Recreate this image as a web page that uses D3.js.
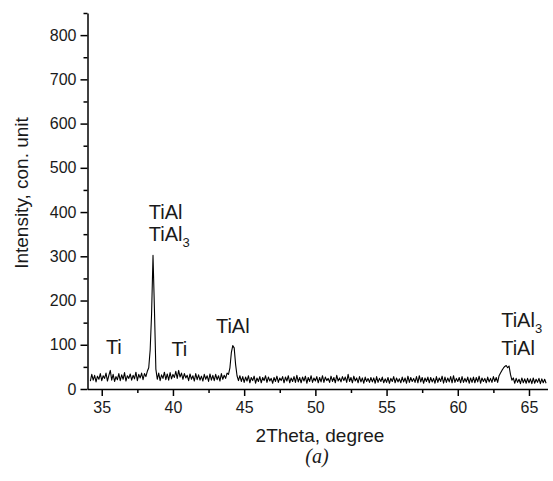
<!DOCTYPE html>
<html>
<head>
<meta charset="utf-8">
<script src="https://cdn.jsdelivr.net/npm/d3@7"></script>
<style>
    body { margin: 0; background: #fff; }
    text { font-family: Arial, "Liberation Sans", sans-serif; fill: #1a1a1a; }
</style>
</head>
<body>
<svg id="chart" width="553" height="481"></svg>
<script>
// XRD pattern, 2theta from 34.2 in steps of 0.1 degree
var thetaStart = 34.2,
    thetaStep = 0.1;

var intensity = [
    18, 33, 20, 31, 16, 29, 22, 35,
    19, 30, 24, 36, 18, 31, 42, 20, 33, 17,
    28, 21, 35, 19, 32, 22, 37, 18, 30, 24,
    34, 20, 31, 23, 38, 19, 33, 25, 36, 21,
    35, 28, 40, 48, 88, 170, 302, 180, 45, 22,
    36, 19, 32, 24, 38, 21, 34, 20, 37, 23,
    33, 26, 40, 24, 42, 27, 36, 22, 35, 25,
    31, 19, 34, 22, 30, 18, 35, 21, 32, 20,
    29, 18, 33, 22, 30, 17, 34, 20, 31, 19,
    33, 21, 30, 18, 35, 22, 31, 24, 36, 33,
    48, 82, 98, 93, 55, 30, 19, 30, 17, 28,
    15, 27, 18, 30, 14, 26, 19, 29, 13, 25,
    17, 28, 14, 26, 19, 30, 15, 27, 18, 24,
    13, 26, 17, 29, 15, 25, 19, 28, 14, 27,
    18, 30, 14, 25, 17, 28, 15, 31, 16, 26,
    14, 27, 18, 29, 13, 26, 17, 30, 15, 25,
    18, 28, 14, 26, 16, 30, 15, 27, 19, 24,
    15, 29, 17, 26, 14, 31, 18, 25, 16, 28,
    19, 27, 15, 33, 17, 26, 14, 29, 18, 25,
    14, 28, 16, 25, 13, 27, 17, 24, 15, 26,
    16, 25, 13, 28, 15, 24, 17, 27, 14, 23,
    15, 26, 13, 24, 17, 28, 14, 25, 16, 23,
    14, 27, 16, 25, 13, 29, 15, 26, 17, 24,
    15, 28, 14, 30, 16, 26, 13, 25, 17, 27,
    14, 26, 16, 24, 13, 28, 15, 25, 17, 29,
    13, 27, 15, 25, 16, 28, 14, 30, 15, 24,
    17, 26, 14, 28, 15, 24, 16, 27, 13, 25,
    15, 27, 14, 26, 16, 29, 13, 25, 17, 24,
    14, 27, 16, 24, 15, 28, 17, 26, 15, 30,
    36, 42, 47, 51, 53, 48, 52, 33, 20, 25,
    13, 24, 15, 22, 12, 25, 14, 23, 13, 24,
    14, 23, 12, 25, 13, 22, 15, 24, 12, 23,
    14, 22, 13
];

var xTicks = [35, 40, 45, 50, 55, 60, 65];
var xMinorTicks = [37.5, 42.5, 47.5, 52.5, 57.5, 62.5];
var yTicks = [0, 100, 200, 300, 400, 500, 600, 700, 800];
var yMinorTicks = [50, 150, 250, 350, 450, 550, 650, 750, 850];

// phase labels: [text, subscript, 2theta anchor, intensity anchor, align]
var phaseLabels = [
    ["Ti", "", 35.85, 80, "middle"],
    ["TiAl", "", 38.3, 385, "start"],
    ["TiAl", "3", 38.3, 335, "start"],
    ["Ti", "", 40.45, 74, "middle"],
    ["TiAl", "", 44.2, 127, "middle"],
    ["TiAl", "3", 63.05, 140, "start"],
    ["TiAl", "", 63.05, 77, "start"]
];

var plotLeft = 87.5, plotRight = 547.5, plotTop = 13, plotBottom = 389;

var svg = d3.select("#chart");

var x = d3.scaleLinear().domain([34, 66.3]).range([plotLeft, plotRight]);
var y = d3.scaleLinear().domain([0, 850]).range([plotBottom, plotTop]);

var line = d3.line()
    .x(function (d, i) { return x(thetaStart + i * thetaStep); })
    .y(function (d) { return y(d); });

svg.append("path")
    .datum(intensity)
    .attr("d", line)
    .attr("fill", "none")
    .attr("stroke", "#000")
    .attr("stroke-width", 1.1)
    .attr("stroke-linejoin", "round");

// minor ticks
svg.append("g")
    .attr("transform", "translate(0," + plotBottom + ")")
    .call(d3.axisBottom(x).tickValues(xMinorTicks).tickSize(4).tickFormat(""))
    .call(function (g) { g.select(".domain").remove(); });

svg.append("g")
    .attr("transform", "translate(" + plotLeft + ",0)")
    .call(d3.axisLeft(y).tickValues(yMinorTicks).tickSize(4).tickFormat(""))
    .call(function (g) { g.select(".domain").remove(); });

var xAxis = svg.append("g")
    .attr("transform", "translate(0," + plotBottom + ")")
    .call(d3.axisBottom(x).tickValues(xTicks).tickSize(7).tickSizeOuter(0));

var yAxis = svg.append("g")
    .attr("transform", "translate(" + plotLeft + ",0)")
    .call(d3.axisLeft(y).tickValues(yTicks).tickSize(7).tickPadding(4).tickSizeOuter(0));

svg.selectAll("g text").style("font-size", "16px").attr("fill", "#1a1a1a");
svg.selectAll("g line").attr("stroke-width", 1.5);
svg.selectAll("g .domain").attr("stroke-width", 1.5);

xAxis.selectAll("text").attr("y", 13).attr("dy", "0.71em");

// axis titles
svg.append("text")
    .attr("x", 320)
    .attr("y", 442)
    .attr("text-anchor", "middle")
    .style("font-size", "19px")
    .text("2Theta, degree");

svg.append("text")
    .attr("transform", "translate(27.5,193) rotate(-90)")
    .attr("text-anchor", "middle")
    .style("font-size", "19px")
    .text("Intensity, con. unit");

svg.append("text")
    .attr("x", 317)
    .attr("y", 463)
    .attr("text-anchor", "middle")
    .style("font-family", "'Liberation Serif', 'Times New Roman', serif")
    .style("font-style", "italic")
    .style("font-size", "20px")
    .text("(a)");

// phase labels
phaseLabels.forEach(function (p) {
    var t = svg.append("text")
        .attr("x", x(p[2]))
        .attr("y", y(p[3]))
        .attr("text-anchor", p[4])
        .style("font-size", "20px")
        .text(p[0]);
    if (p[1]) {
        t.append("tspan")
            .attr("dy", 6)
            .style("font-size", "13px")
            .text(p[1]);
    }
});
</script>
</body>
</html>
